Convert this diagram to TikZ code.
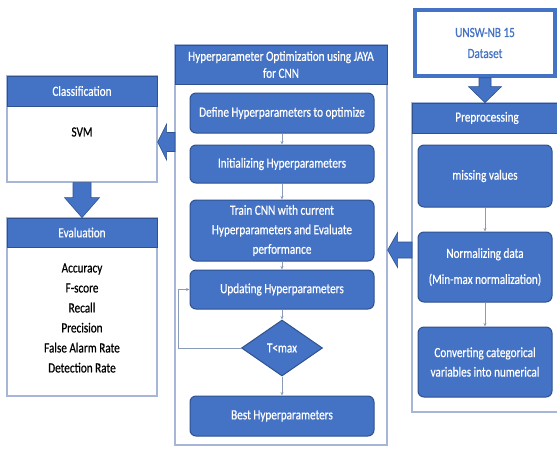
\documentclass[tikz,border=0pt]{standalone}
\usepackage{fontspec}
\setmainfont{Carlito}[FakeStretch=0.8,FakeBold=0.6]
\usetikzlibrary{calc,arrows.meta,shapes.geometric}
\definecolor{bblue}{HTML}{4472C4}
\definecolor{bdark}{HTML}{2F528F}
\definecolor{pborder}{HTML}{A7B6D6}
\definecolor{thinc}{HTML}{8A9BB8}
\tikzset{
  panel/.style={draw=pborder, line width=1.2pt, fill=white, rectangle, inner sep=0pt},
  hdr/.style={draw=bdark, fill=bblue, line width=0.8pt, text=white, inner sep=0pt, align=center, font=\fontsize{14}{17}\selectfont},
  ibox/.style={draw=bdark, fill=bblue, line width=1pt, rounded corners=6pt, text=white, align=center, inner sep=0pt, minimum width=184pt, font=\fontsize{14}{19.5}\selectfont},
  pbox/.style={ibox, minimum width=134pt},
  plain/.style={align=center, inner sep=0pt, font=\fontsize{14}{20}\selectfont},
  barrow/.style={fill=bblue, draw=bdark, line width=0.6pt},
  tline/.style={draw=thinc, line width=0.7pt, -{Stealth[length=3.5pt,width=3pt]}},
}
\newcommand\blkdown[5]{%
  \path[barrow] let \p1=(#1), \p2=(#2) in
    (\x1-#3,\y1) -- (\x1-#3,\y2+#5) -- (\x1-#4,\y2+#5) -- (\x1,\y2)
    -- (\x1+#4,\y2+#5) -- (\x1+#3,\y2+#5) -- (\x1+#3,\y1) -- cycle;}
\newcommand\blkleft[5]{%
  \path[barrow] let \p1=(#1), \p2=(#2) in
    (\x1,\y1+#3) -- (\x2+#5,\y1+#3) -- (\x2+#5,\y1+#4) -- (\x2,\y1)
    -- (\x2+#5,\y1-#4) -- (\x2+#5,\y1-#3) -- (\x1,\y1-#3) -- cycle;}
\begin{document}
\begin{tikzpicture}[x=1pt,y=-1pt]
\useasboundingbox[fill=white] (0,0) rectangle (557,448);

% Classification
\node[panel, minimum width=150pt, minimum height=106pt] (clsbox) at (82,129) {};
\node[hdr, minimum width=150pt, minimum height=30pt] (clshdr) at (82,91) {Classification};
\node[plain] (svm) at (82,132) {SVM};

% Evaluation
\node[panel, minimum width=150pt, minimum height=178pt] (evalbox) at (82,307) {};
\node[hdr, minimum width=150pt, minimum height=29pt] (evalhdr) at (82,232.5) {Evaluation};
\node[plain] (evaltext) at (82,318) {Accuracy\\F-score\\Recall\\Precision\\False Alarm Rate\\Detection Rate};

% Hyperparameter optimization panel
\node[panel, minimum width=212pt, minimum height=400pt] (hyp) at (281,245) {};
\node[hdr, minimum width=212pt, minimum height=39pt] (hyphdr) at (281,64.5) {Hyperparameter Optimization using JAYA\\for CNN};
\node[ibox, minimum height=40pt] (define) at (282,113) {Define Hyperparameters to optimize};
\node[ibox, minimum height=38pt] (init) at (282,164) {Initializing Hyperparameters};
\node[ibox, minimum height=61pt] (train) at (282,230.5) {Train CNN with current\\Hyperparameters and Evaluate\\performance};
\node[ibox, minimum height=39pt] (update) at (282,289.5) {Updating Hyperparameters};
\node[diamond, draw=bdark, fill=bblue, line width=1pt, text=white, inner sep=0pt,
      minimum width=81pt, minimum height=56pt, font=\fontsize{14}{17}\selectfont] (cond) at (282,348) {T<max};
\node[ibox, minimum height=40pt] (best) at (282,416) {Best Hyperparameters};

% Dataset
\node[rectangle, draw=bblue, line width=3.5pt, fill=white, text=bblue, align=center,
      minimum width=140pt, minimum height=66pt, inner sep=0pt, font=\fontsize{14}{21}\selectfont] (dataset) at (485,43) {UNSW-NB 15\\Dataset};

% Preprocessing
\node[panel, minimum width=150pt, minimum height=309pt] (prep) at (487,257.5) {};
\node[hdr, minimum width=150pt, minimum height=30pt] (prephdr) at (487,118) {Preprocessing};
\node[pbox, minimum height=62pt] (missing) at (485,176) {missing values};
\node[pbox, minimum height=70pt, font=\fontsize{14}{26}\selectfont] (norm) at (485,267) {\raisebox{-3pt}{\parbox{130pt}{\centering Normalizing data\\(Min-max normalization)}}};
\node[pbox, minimum height=70pt] (conv) at (485,362) {Converting categorical\\variables into numerical};

% thin connectors
\draw[tline] (define.south) -- (init.north);
\draw[tline] (init.south) -- (train.north);
\draw[tline] (train.south) -- (update.north);
\draw[tline] (update.south) -- (cond.north);
\draw[tline] (cond.south) -- (best.north);
\coordinate (fb) at (178,348);
\draw[tline] (cond.west) -- (fb) |- (update.west);
\draw[tline] (missing.south) -- (norm.north);
\draw[tline] (norm.south) -- (conv.north);

% block arrows
\blkdown{dataset.south}{dataset.south |- prephdr.north}{6pt}{16.5pt}{16pt}
\blkdown{clsbox.south}{clsbox.south |- evalhdr.north}{9pt}{17.5pt}{20pt}
\coordinate (a3) at (175,142);
\blkleft{a3}{a3 -| clsbox.east}{9.5pt}{18pt}{9pt}
\coordinate (a4) at (412,250);
\blkleft{a4}{a4 -| hyp.east}{8pt}{17.5pt}{10pt}
\end{tikzpicture}
\end{document}
